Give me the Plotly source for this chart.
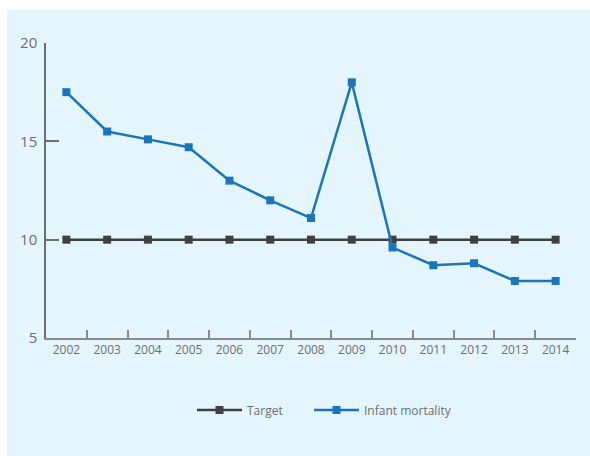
import plotly.graph_objects as go

# Yearly data
years = ["2002", "2003", "2004", "2005", "2006", "2007", "2008",
         "2009", "2010", "2011", "2012", "2013", "2014"]
target = [10, 10, 10, 10, 10, 10, 10, 10, 10, 10, 10, 10, 10]
infant_mortality = [17.5, 15.5, 15.1, 14.7, 13.0, 12.0, 11.1,
                    18.0, 9.6, 8.7, 8.8, 7.9, 7.9]
y_ticks = [5, 10, 15, 20]

FONT = "Open Sans"
GRAY = "#6d6e71"
DARK = "#404041"
BLUE = "#1b75bc"
PANEL = "#e5f5fd"

fig = go.Figure()
fig.add_trace(go.Scatter(
    x=years, y=target, name="Target", mode="lines+markers",
    line=dict(color=DARK, width=2.5),
    marker=dict(symbol="square", size=8, color=DARK),
    legend="legend",
))
fig.add_trace(go.Scatter(
    x=years, y=infant_mortality, name="Infant mortality", mode="lines+markers",
    line=dict(color=BLUE, width=2.5),
    marker=dict(symbol="square", size=8, color=BLUE),
    legend="legend2",
))

W, H = 590, 456
L, R, T, B = 46, 14, 43, 118
pw, ph = W - L - R, H - T - B

# light panel behind the whole chart
fig.add_shape(
    type="rect", xref="paper", yref="paper", layer="below",
    x0=(7 - L) / pw, x1=(W - L) / pw,
    y0=(H - B - H) / ph, y1=(H - B - 10) / ph,
    fillcolor=PANEL, line=dict(width=0),
)

legend_style = dict(
    orientation="h", xanchor="left",
    y=(H - B - 410) / ph, yanchor="middle",
    font=dict(size=12, color=GRAY, family=FONT),
    bgcolor="rgba(0,0,0,0)",
    itemwidth=45,
)

fig.update_layout(
    width=W, height=H,
    margin=dict(l=L, r=R, t=T, b=B),
    paper_bgcolor="white",
    plot_bgcolor="rgba(0,0,0,0)",
    font=dict(family=FONT, color=GRAY),
    showlegend=True,
    legend=dict(x=(192 - L) / pw, **legend_style),
    legend2=dict(x=(309 - L) / pw, **legend_style),
    xaxis=dict(
        type="category", range=[-0.5, 12.5],
        showline=True, linecolor="#8a8b8d", linewidth=1.5,
        ticks="inside", tickson="boundaries", ticklen=8,
        tickcolor="#8a8b8d", tickwidth=1.5,
        showgrid=False, zeroline=False,
        tickfont=dict(size=12, color=GRAY, family=FONT),
        fixedrange=True,
    ),
    yaxis=dict(
        range=[5, 20], tickvals=y_ticks,
        showline=True, linecolor=GRAY, linewidth=1.5,
        ticks="inside", ticklen=13, tickcolor=GRAY, tickwidth=1.5,
        showgrid=False, zeroline=False,
        tickfont=dict(size=15, color=GRAY, family=FONT),
        ticklabelstandoff=4,
        fixedrange=True,
    ),
)

fig.write_html("out.html")
